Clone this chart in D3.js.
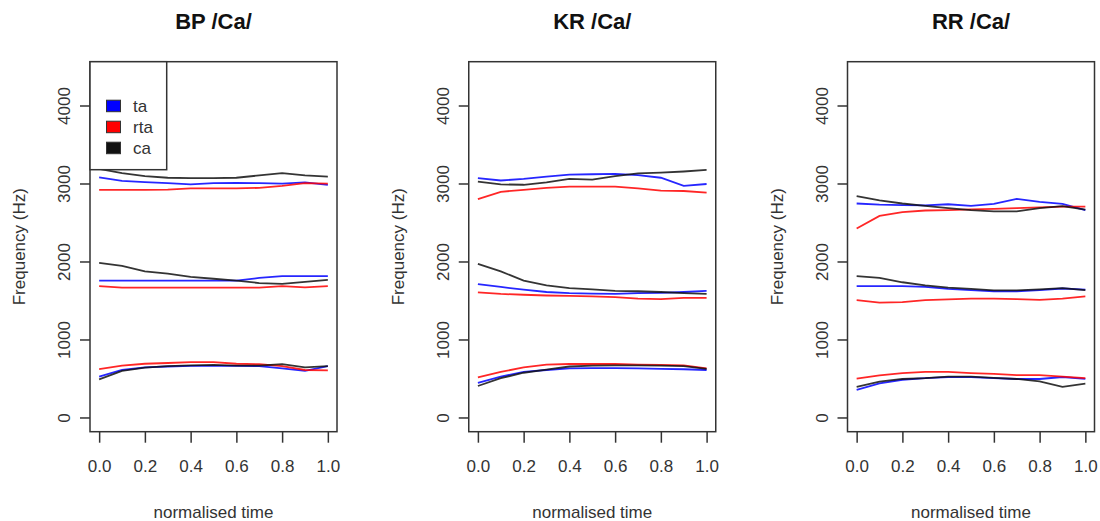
<!DOCTYPE html>
<html>
<head>
<meta charset="utf-8">
<script src="https://cdn.jsdelivr.net/npm/d3@7"></script>
<style>
  body { margin: 0; background: #fff; }
  svg { display: block; }
</style>
</head>
<body>
<script>
// normalised time points
const time = [0, 0.1, 0.2, 0.3, 0.4, 0.5, 0.6, 0.7, 0.8, 0.9, 1.0]
const speakers = ['BP', 'KR', 'RR']
const groups = ['ta', 'rta', 'ca']
const groupColors = ['#0000ff', '#ff0000', '#111111']
const xTicks = [0, 0.2, 0.4, 0.6, 0.8, 1]
const yTicks = [0, 1000, 2000, 3000, 4000]

// formants F1, F2, F3 (Hz) per speaker and group
const bpTa = [
  [530, 615, 650, 660, 667, 667, 667, 665, 635, 605, 665],
  [1760, 1760, 1760, 1760, 1760, 1760, 1760, 1795, 1820, 1820, 1820],
  [3085, 3040, 3025, 3010, 2995, 3010, 3015, 3010, 3005, 3020, 2990]
]
const bpRta = [
  [625, 670, 695, 705, 715, 715, 695, 690, 665, 615, 610],
  [1690, 1670, 1670, 1670, 1670, 1670, 1670, 1670, 1690, 1675, 1690],
  [2925, 2925, 2925, 2928, 2945, 2945, 2945, 2950, 2975, 3010, 3005]
]
const bpCa = [
  [495, 605, 645, 665, 675, 680, 670, 670, 690, 650, 665],
  [1990, 1950, 1880, 1850, 1810, 1785, 1760, 1730, 1720, 1745, 1770],
  [3195, 3140, 3100, 3080, 3075, 3075, 3080, 3110, 3140, 3110, 3095]
]
const krTa = [
  [450, 530, 590, 615, 635, 640, 640, 635, 630, 625, 615],
  [1715, 1680, 1645, 1615, 1600, 1595, 1590, 1600, 1605, 1615, 1630],
  [3075, 3045, 3065, 3095, 3120, 3125, 3130, 3115, 3080, 2975, 3000]
]
const krRta = [
  [520, 590, 650, 685, 692, 692, 692, 685, 680, 675, 635],
  [1610, 1590, 1580, 1570, 1565, 1560, 1550, 1530, 1525, 1540, 1540],
  [2805, 2900, 2925, 2950, 2965, 2965, 2965, 2945, 2915, 2910, 2890]
]
const krCa = [
  [410, 510, 580, 620, 660, 670, 675, 675, 670, 665, 630],
  [1975, 1880, 1760, 1700, 1665, 1650, 1630, 1625, 1615, 1600, 1590],
  [3030, 2995, 2990, 3020, 3065, 3055, 3100, 3135, 3145, 3160, 3180]
]
const rrTa = [
  [360, 445, 490, 510, 525, 525, 510, 500, 500, 525, 500],
  [1690, 1690, 1690, 1680, 1655, 1640, 1625, 1625, 1640, 1660, 1645],
  [2750, 2735, 2730, 2725, 2740, 2720, 2745, 2810, 2770, 2745, 2665]
]
const rrRta = [
  [505, 545, 575, 592, 590, 575, 565, 550, 550, 530, 510],
  [1510, 1480, 1485, 1510, 1520, 1530, 1530, 1525, 1515, 1530, 1560],
  [2430, 2590, 2640, 2660, 2665, 2675, 2680, 2690, 2700, 2710, 2710]
]
const rrCa = [
  [400, 465, 500, 510, 530, 530, 515, 500, 470, 400, 440],
  [1820, 1795, 1740, 1700, 1670, 1655, 1635, 1635, 1650, 1665, 1640],
  [2845, 2790, 2750, 2720, 2690, 2665, 2650, 2650, 2690, 2715, 2670]
]

const tracks = {
  BP: [bpTa, bpRta, bpCa],
  KR: [krTa, krRta, krCa],
  RR: [rrTa, rrRta, rrCa]
}

let width = 1100,
  height = 521

let panelLeft = [90, 468.75, 847.5]
let panelWidth = 247
let plotTop = 61.7,
  plotBottom = 431.7

let svg = d3.select('body')
  .append('svg')
  .attr('width', width)
  .attr('height', height)
  .style('font-family', '"Liberation Sans", Arial, sans-serif')

let y = d3.scaleLinear()
  .domain([-176, 4568])
  .range([plotBottom, plotTop])

speakers.forEach((sp, p) => {
  let left = panelLeft[p]
  let x = d3.scaleLinear()
    .domain([-0.04, 1.04])
    .range([left, left + panelWidth])

  let g = svg.append('g')

  let line = d3.line()
    .x((d, i) => x(time[i]))
    .y(d => y(d))

  tracks[sp].forEach((formants, gi) => {
    formants.forEach(vals => {
      g.append('path')
        .datum(vals)
        .attr('d', line)
        .attr('fill', 'none')
        .attr('stroke', groupColors[gi])
        .attr('stroke-width', 1.8)
        .attr('opacity', 0.85)
    })
  })

  // x axis
  let xAxis = d3.axisBottom(x)
    .tickValues(xTicks)
    .tickSize(11)
    .tickPadding(17)
    .tickFormat(d3.format('.1f'))
  let gx = g.append('g')
    .attr('transform', `translate(0, ${plotBottom})`)
    .call(xAxis)
  gx.select('.domain').remove()
  gx.selectAll('line').attr('stroke', '#333').attr('stroke-width', 1.5)
  gx.selectAll('text')
    .attr('font-size', '17px')
    .attr('fill', '#333')
    .attr('font-family', '"Liberation Sans", Arial, sans-serif')

  // y axis
  let gy = g.append('g')
  yTicks.forEach(t => {
    gy.append('line')
      .attr('x1', left - 10)
      .attr('x2', left)
      .attr('y1', y(t))
      .attr('y2', y(t))
      .attr('stroke', '#333')
      .attr('stroke-width', 1.5)
    gy.append('text')
      .attr('transform', `translate(${left - 20}, ${y(t)}) rotate(-90)`)
      .attr('text-anchor', 'middle')
      .attr('font-size', '17px')
      .attr('fill', '#333')
      .text(t)
  })

  // box
  g.append('rect')
    .attr('x', left)
    .attr('y', plotTop)
    .attr('width', panelWidth)
    .attr('height', plotBottom - plotTop)
    .attr('fill', 'none')
    .attr('stroke', '#333')
    .attr('stroke-width', 1.5)

  // labels
  g.append('text')
    .attr('x', left + panelWidth / 2)
    .attr('y', 29)
    .attr('text-anchor', 'middle')
    .attr('font-size', '22px')
    .attr('font-weight', 'bold')
    .attr('fill', '#111')
    .text(sp + ' /Ca/')

  g.append('text')
    .attr('x', left + panelWidth / 2)
    .attr('y', 518)
    .attr('text-anchor', 'middle')
    .attr('font-size', '17px')
    .attr('fill', '#333')
    .text('normalised time')

  g.append('text')
    .attr('transform', `translate(${left - 65}, ${(plotTop + plotBottom) / 2}) rotate(-90)`)
    .attr('text-anchor', 'middle')
    .attr('font-size', '17px')
    .attr('fill', '#333')
    .text('Frequency (Hz)')

  // legend in first panel
  if (p === 0) {
    let legend = g.append('g')
    legend.append('rect')
      .attr('x', left)
      .attr('y', plotTop)
      .attr('width', 76.7)
      .attr('height', 108)
      .attr('fill', '#fff')
      .attr('stroke', '#333')
      .attr('stroke-width', 1.5)

    groups.forEach((grp, i) => {
      legend.append('rect')
        .attr('x', left + 16.5)
        .attr('y', plotTop + 38.5 + i * 21)
        .attr('width', 14)
        .attr('height', 11.5)
        .attr('fill', groupColors[i])
        .attr('stroke', '#333')
        .attr('stroke-width', 1)
      legend.append('text')
        .attr('x', left + 43)
        .attr('y', plotTop + 50.5 + i * 21)
        .attr('font-size', '17px')
        .attr('fill', '#333')
        .text(grp)
    })
  }
})
</script>
</body>
</html>
